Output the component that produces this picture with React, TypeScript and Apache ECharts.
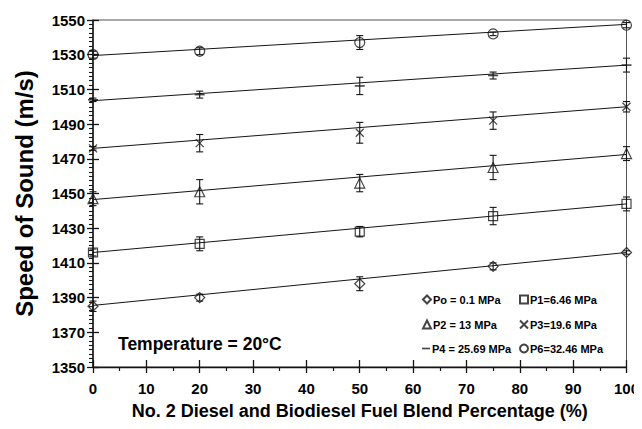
import React, { useEffect, useRef } from "react";
import * as echarts from "echarts";

const blends = [0, 20, 50, 75, 100];

const seriesNames = [
  "Po = 0.1 MPa",
  "P1=6.46 MPa",
  "P2 = 13 MPa",
  "P3=19.6 MPa",
  "P4 = 25.69 MPa",
  "P6=32.46 MPa",
];

const p0Values = [1385, 1390, 1398, 1408, 1416];
const p1Values = [1416, 1421, 1428, 1437, 1444];
const p2Values = [1447, 1451, 1456, 1465, 1473];
const p3Values = [1476, 1479, 1485, 1492, 1500];
const p4Values = [1504, 1507, 1512, 1518, 1524];
const p6Values = [1530, 1532, 1537, 1542, 1547];

const p0Err = [3, 2, 4, 2, 1];
const p1Err = [2, 4, 3, 5, 4];
const p2Err = [4, 7, 5, 7, 4];
const p3Err = [1, 5, 6, 5, 3];
const p4Err = [1, 2, 5, 2, 4];
const p6Err = [2, 2, 4, 1, 1.5];

// fitted line values at blend 0 and blend 100
const fitX = [0, 100];
const p0Fit = [1385.5, 1416];
const p1Fit = [1416, 1444];
const p2Fit = [1446.5, 1472.5];
const p3Fit = [1476, 1500];
const p4Fit = [1503.5, 1524];
const p6Fit = [1529.5, 1547.5];

const yTicks = [1350, 1550, 20];
const xTicks = [0, 100, 10];

const FONT = "'Liberation Sans', Arial, Helvetica, sans-serif";
const INK = "#151515";
const TXT = "#000";

const allValues = [p0Values, p1Values, p2Values, p3Values, p4Values, p6Values];
const allErr = [p0Err, p1Err, p2Err, p3Err, p4Err, p6Err];
const allFit = [p0Fit, p1Fit, p2Fit, p3Fit, p4Fit, p6Fit];

const symbols: any[] = [
  "diamond",
  "rect",
  "triangle",
  "path://M0,0L10,10M10,0L0,10",
  "rect",
  "circle",
];
const symbolSizes: any[] = [10, 9, 10, 8, [10, 1.6], 10];

export default function App() {
  const ref = useRef<HTMLDivElement>(null);

  useEffect(() => {
    if (!ref.current) return;
    const chart = echarts.init(ref.current, undefined, { renderer: "svg" });

    const series: any[] = [];
    allFit.forEach((fit, i) => {
      series.push({
        type: "line",
        name: "fit" + i,
        data: fitX.map((x, j) => [x, fit[j]]),
        showSymbol: false,
        silent: true,
        lineStyle: { color: INK, width: 1 },
        z: 2,
      });
    });
    allValues.forEach((vals, i) => {
      series.push({
        type: "custom",
        name: "err" + i,
        silent: true,
        data: blends.map((b, j) => [b, vals[j], allErr[i][j]]),
        renderItem: (params: any, api: any) => {
          const x = api.value(0);
          const y = api.value(1);
          const e = api.value(2);
          const top = api.coord([x, y + e]);
          const bot = api.coord([x, y - e]);
          const cap = 3.5;
          const st = { stroke: INK, lineWidth: 1.1 };
          return {
            type: "group",
            children: [
              { type: "line", shape: { x1: top[0], y1: top[1], x2: bot[0], y2: bot[1] }, style: st },
              { type: "line", shape: { x1: top[0] - cap, y1: top[1], x2: top[0] + cap, y2: top[1] }, style: st },
              { type: "line", shape: { x1: bot[0] - cap, y1: bot[1], x2: bot[0] + cap, y2: bot[1] }, style: st },
            ],
          };
        },
        z: 3,
      });
    });
    allValues.forEach((vals, i) => {
      const isDash = i === 4;
      series.push({
        type: "scatter",
        name: seriesNames[i],
        data: blends.map((b, j) => [b, vals[j]]),
        symbol: symbols[i],
        symbolSize: symbolSizes[i],
        itemStyle: isDash
          ? { color: INK, borderWidth: 0 }
          : { color: "rgba(255,255,255,0)", borderColor: INK, borderWidth: 1.2 },
        z: 4,
      });
    });

    const legendPos = [
      [422, 294],
      [519, 294],
      [422, 319],
      [519, 319],
      [422, 343],
      [519, 343],
    ];
    const legends = seriesNames.map((n, i) => ({
      data: [n],
      left: legendPos[i][0],
      top: legendPos[i][1],
      padding: 0,
      itemWidth: 8,
      itemHeight: i === 4 ? 1.6 : 8,
      selectedMode: false,
      textStyle: { fontFamily: FONT, fontWeight: "bold", fontSize: 11, color: TXT, padding: [0, 0, 0, -3] },
    }));

    const plain = (v: number) => String(v);

    chart.setOption({
      animation: false,
      backgroundColor: "#fff",
      grid: { left: 93, right: 15, top: 20, bottom: 62, show: true, borderColor: "#555", borderWidth: 1 },
      legend: legends,
      xAxis: [
        {
          type: "value",
          min: xTicks[0],
          max: xTicks[1],
          interval: xTicks[2],
          name: "No. 2 Diesel and Biodiesel Fuel Blend Percentage (%)",
          nameLocation: "middle",
          nameGap: 35,
          nameTextStyle: { fontFamily: FONT, fontWeight: "bold", fontSize: 18, color: TXT },
          axisLine: { lineStyle: { color: INK, width: 1.3 } },
          axisTick: { inside: false, length: 6, lineStyle: { color: INK, width: 1.3 } },
          minorTick: { show: true, splitNumber: 2, length: 4, lineStyle: { color: INK, width: 1.2 } },
          axisLabel: { fontFamily: FONT, fontWeight: "bold", fontSize: 15, color: TXT, margin: 14, formatter: plain },
          splitLine: { show: false },
        },
        {
          type: "value",
          min: xTicks[0],
          max: xTicks[1],
          interval: xTicks[2],
          position: "bottom",
          axisLine: { show: false },
          axisTick: { inside: true, length: 7, lineStyle: { color: INK, width: 1.3 } },
          axisLabel: { show: false },
          splitLine: { show: false },
        },
      ],
      yAxis: [
        {
          type: "value",
          min: yTicks[0],
          max: yTicks[1],
          interval: yTicks[2],
          name: "Speed of Sound (m/s)",
          nameLocation: "middle",
          nameGap: 57,
          nameTextStyle: { fontFamily: FONT, fontWeight: "bold", fontSize: 24, color: TXT },
          axisLine: { lineStyle: { color: INK, width: 1.5 } },
          axisTick: { inside: false, length: 6, lineStyle: { color: INK, width: 1.3 } },
          minorTick: { show: true, splitNumber: 8, length: 4, lineStyle: { color: INK, width: 1.1 } },
          axisLabel: { fontFamily: FONT, fontWeight: "bold", fontSize: 15, color: TXT, margin: 8, formatter: plain },
          splitLine: { show: false },
        },
        {
          type: "value",
          min: yTicks[0],
          max: yTicks[1],
          interval: yTicks[2],
          position: "left",
          axisLine: { show: false },
          axisTick: { inside: true, length: 6, lineStyle: { color: INK, width: 1.3 } },
          axisLabel: { show: false },
          splitLine: { show: false },
        },
      ],
      graphic: [
        {
          type: "text",
          left: 118,
          top: 335,
          style: { text: "Temperature = 20°C", font: `bold 17.5px ${FONT}`, fill: TXT },
        },
      ],
      series,
    });

    return () => chart.dispose();
  }, []);

  return <div ref={ref} style={{ width: 642, height: 429, margin: -8 }} />;
}
